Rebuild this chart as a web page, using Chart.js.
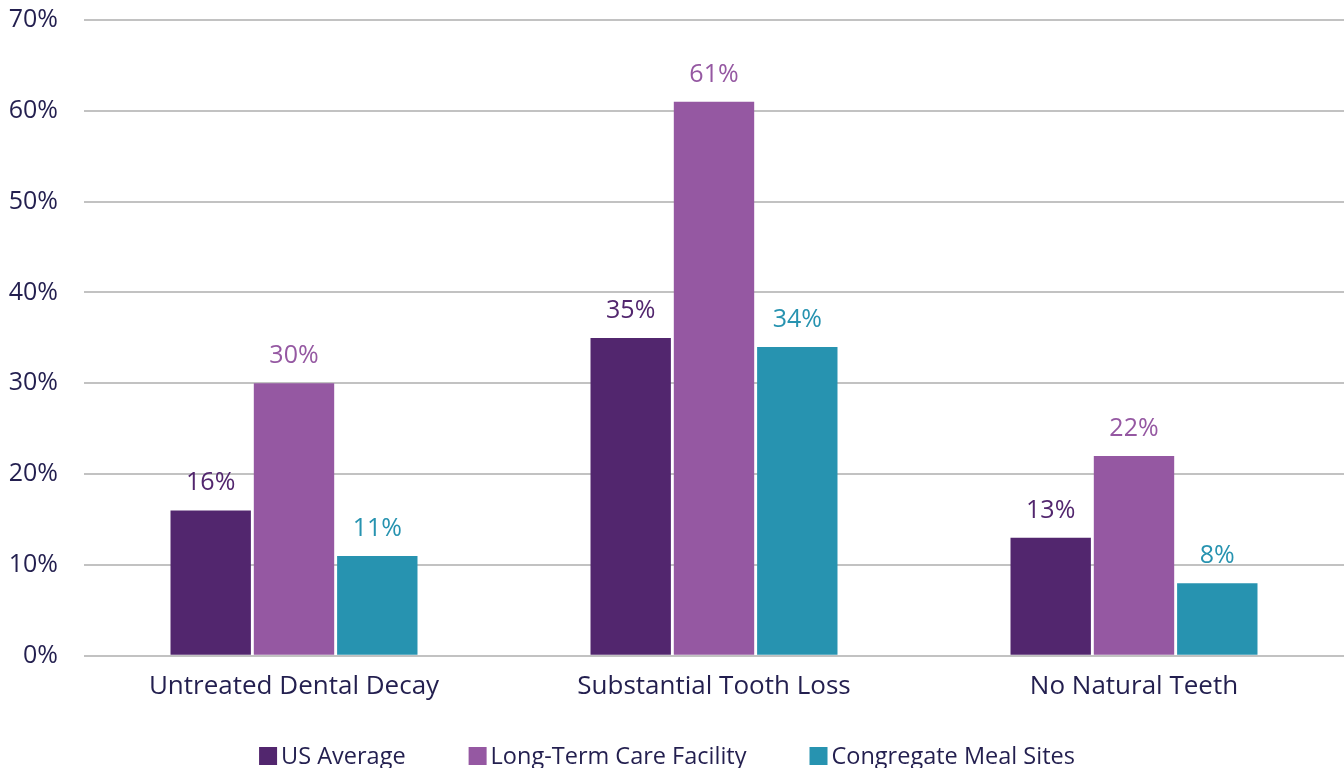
<!DOCTYPE html>
<html>
<head>
<meta charset="utf-8">
<script src="https://cdn.jsdelivr.net/npm/chart.js@4.4.8/dist/chart.umd.min.js"></script>
<style>
  html, body { margin: 0; padding: 0; background: #fff; overflow: hidden; }
  #wrap { width: 1344px; height: 768px; overflow: hidden; }
  /* the y axis reserves label height + padding above the top gridline; pull it up */
  #chart { display: block; margin-top: -21px; }
</style>
</head>
<body>
<div id="wrap"><canvas id="chart" width="1344" height="789"></canvas></div>
<script>
/*  Data  */

const categories = ['Untreated Dental Decay', 'Substantial Tooth Loss', 'No Natural Teeth'];
const usAverage = [16, 35, 13];
const longTermCare = [30, 61, 22];
const mealSites = [11, 34, 8];
const yTicks = [0, 10, 20, 30, 40, 50, 60, 70];

const seriesNames = ['US Average', 'Long-Term Care Facility', 'Congregate Meal Sites'];
const seriesColors = ['#52266e', '#9558a2', '#2793b0'];

const FONT = '"Open Sans", Lato, sans-serif';
const TEXT = '#231f4f';
const SHIFT = 21;


/*  Plugins  */

// value labels above each bar, in the series colour
const barLabels = {
    id: 'barLabels',
    afterDatasetsDraw(chart) {
        const ctx = chart.ctx;
        ctx.save();
        ctx.font = '25px ' + FONT;
        ctx.textAlign = 'center';
        ctx.textBaseline = 'alphabetic';
        chart.data.datasets.forEach((ds, i) => {
            const meta = chart.getDatasetMeta(i);
            ctx.fillStyle = ds.backgroundColor;
            meta.data.forEach((bar, j) => {
                ctx.fillText(ds.data[j] + '%', bar.x, bar.y - 20);
            });
        });
        ctx.restore();
    }
};

// legend row along the bottom edge
const bottomLegend = {
    id: 'bottomLegend',
    afterDraw(chart) {
        const ctx = chart.ctx;
        const box = 18, gap = 4, spacing = 63;
        ctx.save();
        ctx.font = '23.5px ' + FONT;
        ctx.textBaseline = 'middle';
        const widths = seriesNames.map(n => box + gap + ctx.measureText(n).width);
        const total = widths.reduce((a, b) => a + b, 0) + spacing * (widths.length - 1);
        let x = (chart.width - total) / 2 - 5;
        const y = 756 + SHIFT;
        seriesNames.forEach((name, i) => {
            ctx.fillStyle = seriesColors[i];
            ctx.fillRect(x, y - box / 2, box, box);
            ctx.fillStyle = TEXT;
            ctx.fillText(name, x + box + gap, y + 1);
            x += widths[i] + spacing;
        });
        ctx.restore();
    }
};


/*  Chart  */

const datasets = [usAverage, longTermCare, mealSites].map((values, i) => ({
    label: seriesNames[i],
    data: values,
    backgroundColor: seriesColors[i],
    borderWidth: 0,
    barPercentage: 0.965,
    categoryPercentage: 0.595
}));

new Chart(document.getElementById('chart'), {
    type: 'bar',
    data: { labels: categories, datasets: datasets },
    options: {
        responsive: false,
        animation: false,
        devicePixelRatio: 1,
        layout: { padding: { top: 0, bottom: 51, right: 0, left: 0 } },
        plugins: {
            legend: { display: false },
            tooltip: { enabled: false }
        },
        scales: {
            x: {
                grid: { display: false, drawTicks: false },
                border: { display: false },
                ticks: { color: TEXT, font: { family: FONT, size: 26 }, padding: 15 }
            },
            y: {
                min: 0,
                max: 70,
                afterBuildTicks(axis) {
                    axis.ticks = yTicks.map(v => ({ value: v }));
                },
                afterFit(axis) {
                    axis.width = 84;
                },
                grid: { color: '#c2c2c2', lineWidth: 2, drawTicks: false },
                border: { display: false },
                ticks: {
                    color: TEXT,
                    font: { family: FONT, size: 25 },
                    padding: 26,
                    callback: v => v + '%'
                }
            }
        }
    },
    plugins: [barLabels, bottomLegend]
});
</script>
</body>
</html>
